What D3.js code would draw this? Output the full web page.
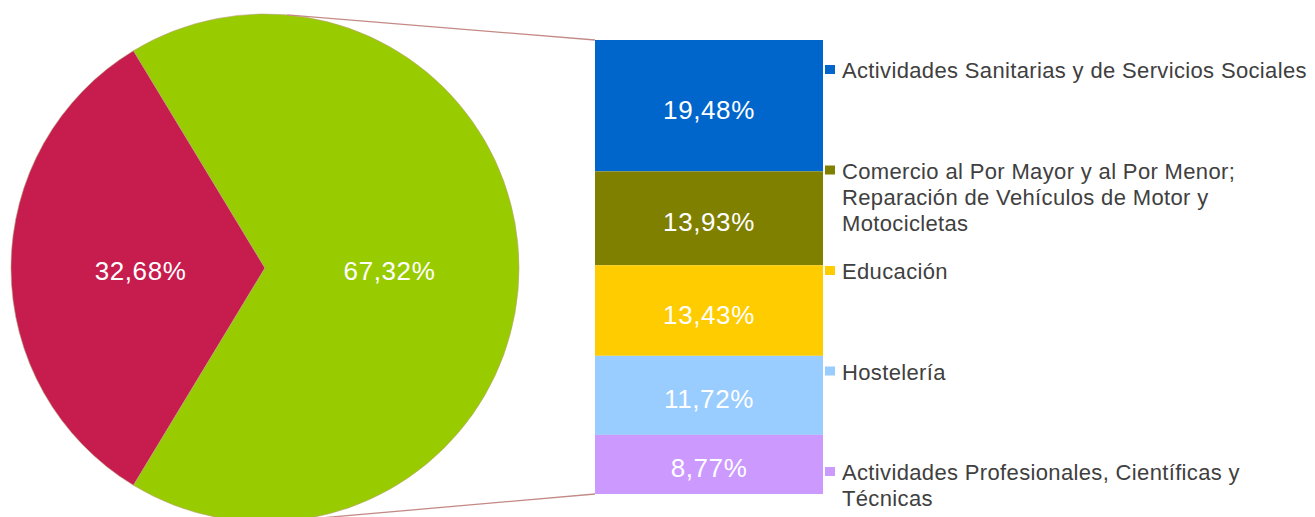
<!DOCTYPE html>
<html lang="es">
<head>
  <meta charset="UTF-8">
  <title>Distribución por actividad</title>
  <script src="https://d3js.org/d3.v7.min.js"></script>
  <style>
    body { margin: 0; background: #fff; }
    text { font-family: "Liberation Sans", Arial, sans-serif; }
    .pct { fill: #fff; font-size: 26px; letter-spacing: 0.6px; text-anchor: middle; }
    .legend text { fill: #404040; font-size: 22px; letter-spacing: 0.35px; }
    .connector { stroke: #c48a86; stroke-width: 1.3px; fill: none; }
  </style>
</head>
<body>
  <div id="chart"></div>
  <script>
    // pie: resto vs. las cinco actividades
    const pieLabels = ["Resto", "Cinco actividades"];
    const pieValues = [32.68, 67.32];
    const pieColors = ["#c71c4e", "#99cc00"];

    // barra apilada (desglose del 67,32%)
    const categories = [
      "Actividades Sanitarias y de Servicios Sociales",
      "Comercio al Por Mayor y al Por Menor;\nReparación de Vehículos de Motor y\nMotocicletas",
      "Educación",
      "Hostelería",
      "Actividades Profesionales, Científicas y\nTécnicas"
    ];
    const barValues = [19.48, 13.93, 13.43, 11.72, 8.77];
    const barColors = ["#0066cc", "#808000", "#ffcc00", "#99ccff", "#cc99ff"];

    const width = 1315;
    const height = 517;
    const fmt = v => v.toFixed(2).replace(".", ",") + "%";

    const svg = d3.select("#chart")
      .append("svg")
      .attr("width", width)
      .attr("height", height);

    // ---- pie ----
    const cx = 265, cy = 268, r = 254;
    const redAngle = pieValues[0] / 100 * 2 * Math.PI;
    const start = -Math.PI / 2 - redAngle / 2;   // rojo centrado a la izquierda
    const pie = d3.pie()
      .sort(null)
      .startAngle(start)
      .endAngle(start + 2 * Math.PI);
    const arcs = pie(pieValues);
    const arc = d3.arc().innerRadius(0).outerRadius(r);
    const labelArc = d3.arc().innerRadius(r * 0.49).outerRadius(r * 0.49);

    const gPie = svg.append("g").attr("transform", `translate(${cx},${cy})`);
    gPie.selectAll("path")
      .data(arcs)
      .join("path")
      .attr("d", arc)
      .attr("fill", (d, i) => pieColors[i])
      .attr("stroke", "#b8a07a")
      .attr("stroke-width", 0.6);

    gPie.selectAll("text")
      .data(arcs)
      .join("text")
      .attr("class", "pct")
      .attr("transform", d => {
        const [x, y] = labelArc.centroid(d);
        return `translate(${x},${y + 12})`;
      })
      .text(d => fmt(d.data));

    // ---- barra ----
    const barX = 595, barW = 228, barTop = 40, barBottom = 494;
    const total = d3.sum(barValues);
    const y = d3.scaleLinear().domain([0, total]).range([barTop, barBottom]);
    let acc = 0;
    const stack = barValues.map((v, i) => {
      const d = { v, i, y0: acc, y1: acc + v };
      acc += v;
      return d;
    });

    // conectores
    const angTop = 5 * Math.PI / 180, angBot = 173 * Math.PI / 180;
    const connectors = [
      [[cx + r * Math.sin(angTop), cy - r * Math.cos(angTop)], [barX, y(0)]],
      [[cx + r * Math.sin(angBot), cy - r * Math.cos(angBot)], [barX, y(total)]]
    ];
    svg.selectAll(".connector")
      .data(connectors)
      .join("path")
      .attr("class", "connector")
      .attr("d", d3.line());

    const gBar = svg.append("g");
    gBar.selectAll("rect")
      .data(stack)
      .join("rect")
      .attr("x", barX)
      .attr("width", barW)
      .attr("y", d => y(d.y0))
      .attr("height", d => y(d.y1) - y(d.y0))
      .attr("fill", d => barColors[d.i]);

    gBar.selectAll("text")
      .data(stack)
      .join("text")
      .attr("class", "pct")
      .attr("x", barX + barW / 2)
      .attr("y", d => (y(d.y0) + y(d.y1)) / 2 + 13)
      .text(d => fmt(d.v));

    // ---- leyenda ----
    const ly = d3.scalePoint().domain(categories).range([78, 480]);
    const legend = svg.append("g").attr("class", "legend");
    const items = legend.selectAll("g")
      .data(categories)
      .join("g")
      .attr("transform", d => `translate(0,${ly(d)})`);

    items.append("rect")
      .attr("x", 825)
      .attr("y", -13)
      .attr("width", 10)
      .attr("height", 9)
      .attr("fill", (d, i) => barColors[i]);

    items.append("text")
      .attr("x", 842)
      .selectAll("tspan")
      .data(d => d.split("\n"))
      .join("tspan")
      .attr("x", 842)
      .attr("dy", (d, i) => i === 0 ? 0 : 26)
      .text(d => d);
  </script>
</body>
</html>
